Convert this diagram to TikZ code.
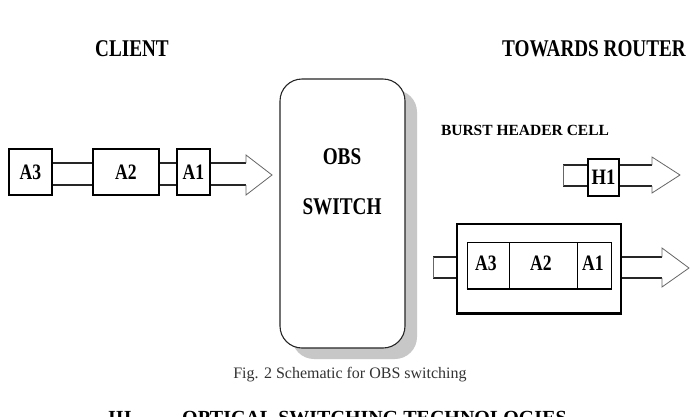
\documentclass[tikz,border=0pt]{standalone}
\usepackage{fontspec}
\usepackage{graphicx}
\setmainfont{Liberation Serif}
\usetikzlibrary{calc}
% narrowed bold lettering used for the labels
\newcommand\narrow[2][0.8]{\scalebox{#1}[1]{#2}}
\tikzset{
  box/.style={draw=black, line width=1.2pt, fill=white, inner sep=0pt, minimum height=46pt},
  lbl/.style={font=\bfseries\fontsize{22}{22}\selectfont, text=black},
  title/.style={font=\bfseries\fontsize{24}{24}\selectfont, text=black},
  rail/.style={draw=black!85, line width=1.5pt},
  head/.style={draw=black!60, line width=0.8pt, line join=miter},
}
\begin{document}
\begin{tikzpicture}[x=1pt, y=-1pt]
\useasboundingbox (0,0) rectangle (697,416);
\fill[white] (0,0) rectangle (697,416);

% column headings
\node[title] (client) at (132,49) {\narrow{CLIENT}};
\node[title] (towards) at (594,49) {\narrow{TOWARDS ROUTER}};

% ---- incoming burst on the client side
\coordinate (rt) at (0,163);
\coordinate (rb) at (0,185);
\node[box, minimum width=43pt] (a3) at (30.5,172) {};
\node[box, minimum width=66pt] (a2) at (126,172) {};
\node[box, minimum width=33pt] (a1) at (193.5,172) {};
\node[lbl] (a3t) at (a3) {\narrow{A3}};
\node[lbl] (a2t) at (a2) {\narrow{A2}};
\node[lbl] (a1t) at (a1) {\narrow{A1}};
\draw[rail] (a3.east |- rt) -- (a2.west |- rt);
\draw[rail] (a3.east |- rb) -- (a2.west |- rb);
\draw[rail] (a2.east |- rt) -- (a1.west |- rt);
\draw[rail] (a2.east |- rb) -- (a1.west |- rb);
\coordinate (ltip) at (272,175);
\draw[rail] (a1.east |- rt) -- (246,163);
\draw[rail] (a1.east |- rb) -- (246,185);
\draw[head] (246,163) -- (246,155) -- (ltip) -- (246,195) -- (246,185);

% ---- the switch with its drop shadow
\fill[black!22, rounded corners=22pt] (292,90) rectangle (417,359);
\node[draw=black!85, line width=1.1pt, fill=white, rounded corners=22pt,
      minimum width=125pt, minimum height=269pt] (switch) at (342.5,213.5) {};
\node[title] (obs) at (342,157) {\narrow{OBS}};
\node[title] (swt) at (342,207) {\narrow{SWITCH}};

% ---- burst header cell leaving towards the router
\node[font=\bfseries\fontsize{15.5}{15.5}\selectfont, text=black] (burst) at (525,130) {BURST HEADER CELL};
\coordinate (ht) at (0,165);
\coordinate (hb) at (0,186);
\node[box, minimum width=31pt, minimum height=37pt] (h1) at (603.5,177.5) {};
\node[lbl] (h1t) at (h1) {\narrow[0.85]{H1}};
\draw[rail] (563,165) -- (h1.west |- ht);
\draw[rail] (563,186) -- (h1.west |- hb);
\draw[head] (563,165) -- (563,186);
\draw[rail] (h1.east |- ht) -- (652,165);
\draw[rail] (h1.east |- hb) -- (652,186);
\coordinate (htip) at (680,175);
\draw[head] (652,165) -- (652,157) -- (htip) -- (652,193) -- (652,186);

% ---- assembled data burst leaving towards the router
\coordinate (bt) at (0,257);
\coordinate (bb) at (0,278);
\node[draw=black, line width=1.1pt, fill=white, inner sep=0pt,
      minimum width=164pt, minimum height=89pt] (outer) at (539,268.5) {};
\draw[black, line width=2pt] (outer.south west) -- (outer.south east);
\node[box, line width=1pt, minimum width=42pt] (c3) at (488,265) {};
\node[box, line width=1pt, minimum width=68pt] (c2) at (543,265) {};
\node[box, line width=1pt, minimum width=34pt] (c1) at (594,265) {};
\draw[black, line width=2pt] (c3.south west) -- (c1.south east);
\node[lbl] (c3t) at (486,263) {\narrow{A3}};
\node[lbl] (c2t) at (541,263) {\narrow{A2}};
\node[lbl] (c1t) at (593,263) {\narrow{A1}};
\draw[rail] (433,257) -- (outer.west |- bt);
\draw[rail] (433,278) -- (outer.west |- bb);
\draw[head] (433,257) -- (433,278);
\draw[rail] (outer.east |- bt) -- (662,257);
\draw[rail] (outer.east |- bb) -- (662,278);
\coordinate (btip) at (689,268);
\draw[head] (662,257) -- (662,248) -- (btip) -- (662,287) -- (662,278);

% ---- caption and the following section heading
\node[font=\fontsize{16}{16}\selectfont, text=black!80] (cap) at (350,375) {Fig. 2 Schematic for OBS switching};
\node[font=\bfseries\fontsize{20}{20}\selectfont, anchor=base west, inner sep=0pt] (secno) at (108,424) {III.};
\node[font=\bfseries\fontsize{20}{20}\selectfont, anchor=base west, inner sep=0pt] (sectitle) at (182,424) {OPTICAL SWITCHING TECHNOLOGIES};
\end{tikzpicture}
\end{document}
